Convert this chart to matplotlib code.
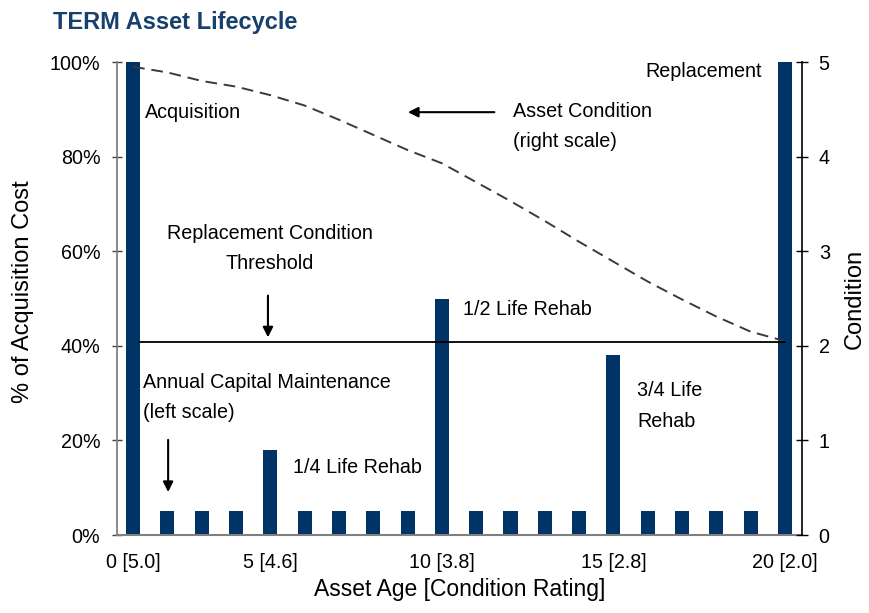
import matplotlib
matplotlib.use('Agg')
import matplotlib.pyplot as plt
from matplotlib.ticker import FuncFormatter

plt.rcParams['font.family'] = ['Liberation Sans', 'DejaVu Sans']

# data (20 yearly categories)
years = list(range(20))
capital_pct = [100, 5, 5, 5, 18, 5, 5, 5, 5, 50, 5, 5, 5, 5, 38, 5, 5, 5, 5, 100]
condition = [4.95, 4.89, 4.80, 4.74, 4.65, 4.54, 4.39, 4.23, 4.07, 3.93,
             3.73, 3.53, 3.32, 3.10, 2.89, 2.68, 2.49, 2.31, 2.15, 2.05]
threshold = 2.04
tick_years = [0, 4, 9, 14, 19]
tick_labels = ['0 [5.0]', '5 [4.6]', '10 [3.8]', '15 [2.8]', '20 [2.0]']

navy = '#003366'
fs = 14.2
bar_w = 0.41
ls = 1.75

fig = plt.figure(figsize=(8.7, 6.13), dpi=100)
ax = fig.add_axes([0.1345, 0.1272, 0.7874, 0.7716])

# capital spending bars (left scale)
ax.bar(years, capital_pct, width=bar_w, color=navy, zorder=2)
ax.set_xlim(-0.47, 19.5)
ax.set_ylim(0, 100)
ax.set_yticks(range(0, 101, 20))
ax.yaxis.set_major_formatter(FuncFormatter(lambda v, p: '%d%%' % v))
ax.set_xticks(tick_years)
ax.set_xticklabels(tick_labels)
ax.set_ylabel('% of Acquisition Cost', fontsize=17, labelpad=11)
ax.yaxis.set_label_coords(-0.121, 0.515)
ax.set_xlabel('Asset Age [Condition Rating]', fontsize=16.5, labelpad=4)

ax.spines['top'].set_visible(False)
ax.spines['right'].set_visible(False)
ax.spines['left'].set_color('#808080')
ax.spines['bottom'].set_color('#808080')
ax.spines['left'].set_linewidth(1.3)
ax.spines['bottom'].set_linewidth(1.5)
ax.tick_params(axis='y', direction='inout', length=7, width=1, color='#404040',
               labelsize=fs, pad=8.5)
ax.tick_params(axis='x', length=0, labelsize=fs, pad=13)

# condition curve (right scale)
ax2 = ax.twinx()
ax2.set_ylim(0, 5)
ax2.plot(years, condition, color='#3a3a3a', lw=1.4, dashes=(6, 3.5))
ax2.plot([years[0] + bar_w / 2, years[-1]], [threshold, threshold], color='black', lw=1.3)
ax2.set_yticks(range(0, 6))
ax2.set_ylabel('Condition', fontsize=17, labelpad=10)
for s in ['top', 'left', 'bottom']:
    ax2.spines[s].set_visible(False)
ax2.spines['right'].set_color('black')
ax2.spines['right'].set_linewidth(1.2)
ax2.tick_params(axis='y', direction='inout', length=8, width=1, color='black',
                labelsize=fs, pad=8)

# annotations
ax.text(0.35, 89.4, 'Acquisition', fontsize=fs, va='center', ha='left')
ax.text(18.34, 98.1, 'Replacement', fontsize=fs, va='center', ha='right')
ax.text(11.08, 86.3, 'Asset Condition\n(right scale)', fontsize=fs,
        va='center', ha='left', linespacing=ls)
ax.annotate('', xy=(7.93, 89.4), xytext=(10.61, 89.4),
            arrowprops=dict(arrowstyle='-|>', color='black', lw=1.5, mutation_scale=15))
ax.text(3.99, 60.6, 'Replacement Condition\nThreshold', fontsize=fs,
        va='center', ha='center', linespacing=ls)
ax.annotate('', xy=(3.93, 41.2), xytext=(3.93, 51.2),
            arrowprops=dict(arrowstyle='-|>', color='black', lw=1.5, mutation_scale=15))
ax.text(0.29, 29.0, 'Annual Capital Maintenance\n(left scale)', fontsize=fs,
        va='center', ha='left', linespacing=ls)
ax.annotate('', xy=(1.02, 8.5), xytext=(1.02, 20.7),
            arrowprops=dict(arrowstyle='-|>', color='black', lw=1.5, mutation_scale=15))
ax.text(4.66, 14.2, '1/4 Life Rehab', fontsize=fs, va='center', ha='left')
ax.text(9.62, 47.6, '1/2 Life Rehab', fontsize=fs, va='center', ha='left')
ax.text(14.69, 27.3, '3/4 Life\nRehab', fontsize=fs, va='center', ha='left',
        linespacing=ls)

fig.text(0.061, 0.964, 'TERM Asset Lifecycle', fontsize=17, fontweight='bold',
         color='#17406D', va='center', ha='left')

fig.savefig('out.png', dpi=100)
